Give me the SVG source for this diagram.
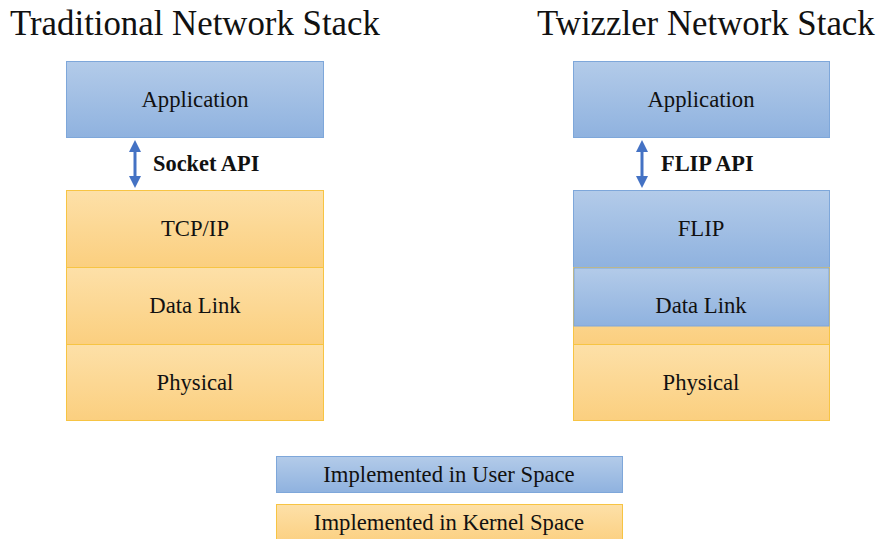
<svg xmlns="http://www.w3.org/2000/svg" width="881" height="539" viewBox="0 0 881 539">
<defs>
<linearGradient id="gb" x1="0" y1="0" x2="0" y2="1"><stop offset="0" stop-color="#b3cbe9"/><stop offset="1" stop-color="#8fb2df"/></linearGradient>
<linearGradient id="go" x1="0" y1="0" x2="0" y2="1"><stop offset="0" stop-color="#fde0a8"/><stop offset="1" stop-color="#fbcf7f"/></linearGradient>
<marker id="ah" viewBox="0 0 10 10" refX="5" refY="5" markerWidth="4" markerHeight="4" orient="auto-start-reverse" markerUnits="strokeWidth"><path d="M0,0 L10,5 L0,10 z" fill="#4472c4"/></marker>
<style>
.u{fill:url(#gb);stroke:#7ea7da;stroke-width:1}
.k{fill:url(#go);stroke:#f7c443;stroke-width:1}
.t{font-family:"Liberation Serif",serif;font-size:22.7px;fill:#111;text-anchor:middle}
.h{font-family:"Liberation Serif",serif;font-size:34.8px;fill:#111}
.b{font-family:"Liberation Serif",serif;font-size:22.4px;font-weight:bold;fill:#111}
.c{stroke:#4472c4;stroke-width:3;fill:none}
</style>
</defs>
<rect width="881" height="539" fill="#fff"/>
<text class="h" x="10" y="35">Traditional Network Stack</text>
<text class="h" x="537" y="35">Twizzler Network Stack</text>
<g id="l-app"><rect class="u" x="66.5" y="61.5" width="257" height="76"/><text class="t" x="195" y="107">Application</text></g>
<g id="l-tcp"><rect class="k" x="66.5" y="190.5" width="257" height="77"/><text class="t" x="195" y="236">TCP/IP</text></g>
<g id="l-dl"><rect class="k" x="66.5" y="267.5" width="257" height="77"/><text class="t" x="195" y="313">Data Link</text></g>
<g id="l-phy"><rect class="k" x="66.5" y="344.5" width="257" height="76"/><text class="t" x="195" y="390">Physical</text></g>
<g id="r-app"><rect class="u" x="573.5" y="61.5" width="256" height="76"/><text class="t" x="701" y="107">Application</text></g>
<g id="r-flip"><rect class="u" x="573.5" y="190.5" width="256" height="77"/><text class="t" x="701" y="236">FLIP</text></g>
<g id="r-dl"><rect class="k" x="573.5" y="267.5" width="256" height="77"/><rect x="574" y="268" width="255" height="58" fill="url(#gb)" stroke="#7ea7da" stroke-width="1"/><text class="t" x="701" y="313">Data Link</text></g>
<g id="r-phy"><rect class="k" x="573.5" y="344.5" width="256" height="76"/><text class="t" x="701" y="390">Physical</text></g>
<g id="connectors">
<line class="c" x1="135" y1="146" x2="135" y2="182" marker-start="url(#ah)" marker-end="url(#ah)"/>
<line class="c" x1="642" y1="146" x2="642" y2="182" marker-start="url(#ah)" marker-end="url(#ah)"/>
<text class="b" x="153" y="171">Socket API</text>
<text class="b" x="661" y="171">FLIP API</text>
</g>
<g id="legend-user"><rect class="u" x="276.5" y="456.5" width="346" height="36"/><text class="t" x="449" y="482">Implemented in User Space</text></g>
<g id="legend-kernel"><rect class="k" x="276.5" y="504.5" width="346" height="40"/><text class="t" x="449" y="530">Implemented in Kernel Space</text></g>
</svg>
